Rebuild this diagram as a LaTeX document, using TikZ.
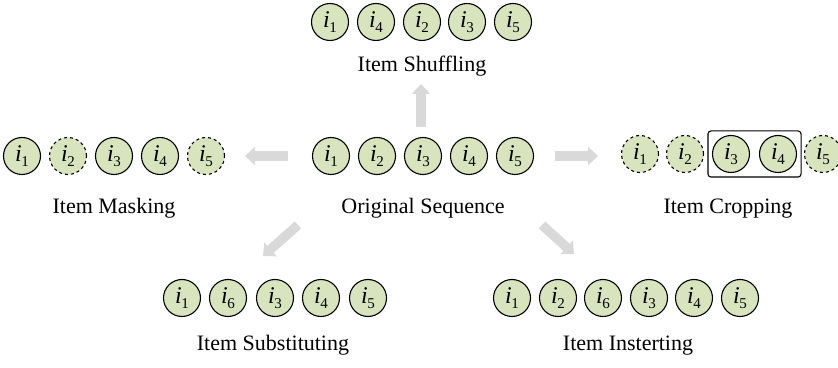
\documentclass[tikz,border=0pt]{standalone}
\usepackage{fontspec}
\setmainfont{Liberation Serif}
\usetikzlibrary{arrows.meta, fit}
\definecolor{itemgreen}{RGB}{215,228,189}
\definecolor{arrowgray}{RGB}{217,217,217}
\newcommand{\itm}[1]{{\fontsize{24}{24}\selectfont\itshape i}\kern-0.5pt\raisebox{-5pt}{\fontsize{15}{15}\selectfont #1}}

\begin{document}
\begin{tikzpicture}[x=1pt, y=1pt,
  item/.style={circle, draw, line width=1.1pt, fill=itemgreen, minimum size=37pt, inner sep=0pt},
  masked/.style={item, dashed},
  caption/.style={anchor=base, font=\fontsize{22}{26}\selectfont},
  bigarrow/.style={draw=arrowgray, line width=9.5pt, -{Triangle[length=10pt,width=18pt]}},
  cropbox/.style={draw, rounded corners=3pt, line width=1.1pt, inner sep=4pt}]
\useasboundingbox (0,0) rectangle (838,367);
% original sequence
\foreach \n/\x in {1/331,2/377,3/423,4/469,5/515}
  \node[item] (o\n) at (\x,211) {\itm{\n}};
\node[caption] (origlabel) at (423,153) {Original Sequence};
% shuffling
\foreach \k/\n/\x in {1/1/330,2/4/376,3/2/422,4/3/467,5/5/513}
  \node[item] (s\k) at (\x,345) {\itm{\n}};
\node[caption] (shuflabel) at (422,295) {Item Shuffling};
% masking
\foreach \n/\x in {1/22,3/114,4/160}
  \node[item] (m\n) at (\x,211) {\itm{\n}};
\foreach \n/\x in {2/68,5/206}
  \node[masked] (m\n) at (\x,211) {\itm{\n}};
\node[caption] (masklabel) at (114,153) {Item Masking};
% cropping
\foreach \n/\x in {1/640,2/685,5/823}
  \node[masked] (c\n) at (\x,213) {\itm{\n}};
\foreach \n/\x in {3/731,4/778}
  \node[item] (c\n) at (\x,213) {\itm{\n}};
\node[cropbox, fit=(c3)(c4)] (cropped) {};
\node[caption] (croplabel) at (728,153) {Item Cropping};
% substituting
\foreach \k/\n/\x in {1/1/182,2/6/228,3/3/275,4/4/321,5/5/368}
  \node[item] (u\k) at (\x,69) {\itm{\n}};
\node[caption] (sublabel) at (273,17) {Item Substituting};
% inserting
\foreach \k/\n/\x in {1/1/512,2/2/558,3/6/603,4/3/649,5/4/694,6/5/740}
  \node[item] (n\k) at (\x,69) {\itm{\n}};
\node[caption] (inslabel) at (628,17) {Item Insterting};
% arrows
\coordinate (upfrom) at (421,240);
\coordinate (upto) at (421,283);
\coordinate (leftfrom) at (288,211);
\coordinate (leftto) at (245,211);
\coordinate (rightfrom) at (555,211);
\coordinate (rightto) at (598,211);
\coordinate (dlfrom) at (298,142);
\coordinate (dlto) at (263,111);
\coordinate (drfrom) at (542,142);
\coordinate (drto) at (574,113);
\draw[bigarrow] (upfrom) -- (upto);
\draw[bigarrow] (leftfrom) -- (leftto);
\draw[bigarrow] (rightfrom) -- (rightto);
\draw[bigarrow] (dlfrom) -- (dlto);
\draw[bigarrow] (drfrom) -- (drto);
\end{tikzpicture}
\end{document}
